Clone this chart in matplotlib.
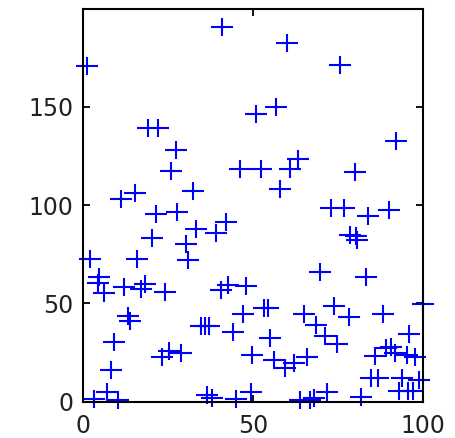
import matplotlib
matplotlib.use('Agg')
import matplotlib.pyplot as plt
from matplotlib.path import Path

# values
x = [1.2, 40.9, 19.0, 22.0, 27.2, 25.8, 32.2, 15.1, 11.2, 46.0,
     21.4, 27.7, 59.8, 75.5, 50.8, 56.7, 92.0, 52.2, 60.8, 63.0,
     80.0, 57.9, 72.8, 76.8, 83.7, 89.9, 33.1, 39.0, 42.1, 20.2,
     30.1, 30.9, 15.8, 2.1, 4.6, 4.3, 6.2, 12.0, 17.0, 18.2,
     24.0, 13.2, 13.6, 34.5, 35.7, 37.1, 8.9, 8.2, 25.3, 28.7,
     23.0, 7.0, 3.1, 10.1, 36.3, 37.8, 44.9, 40.4, 42.7, 47.8,
     44.1, 47.1, 53.2, 54.2, 64.8, 73.6, 78.0, 88.1, 100.0, 54.9,
     68.5, 71.2, 74.7, 95.7, 49.7, 56.1, 59.2, 61.9, 65.8, 49.3,
     63.7, 66.7, 67.9, 71.7, 69.7, 83.0, 78.5, 80.2, 80.6, 89.0,
     90.4, 85.7, 91.8, 95.1, 97.6, 84.7, 86.6, 93.7, 98.8, 92.9,
     95.6, 97.1, 81.8]
y = [170.7, 190.8, 139.1, 139.1, 127.9, 117.2, 107.3, 106.4, 103.0, 118.2,
     95.6, 96.6, 182.6, 171.6, 146.6, 150.0, 132.5, 118.2, 118.2, 123.5,
     117.0, 108.2, 98.8, 98.8, 94.5, 97.3, 88.0, 86.0, 91.2, 83.4,
     80.5, 72.2, 72.5, 72.5, 63.5, 60.6, 55.2, 58.3, 57.2, 60.0,
     56.0, 43.5, 41.2, 38.7, 38.7, 38.7, 30.2, 16.0, 26.0, 24.6,
     22.7, 4.8, 1.2, 0.8, 3.2, 1.7, 1.5, 56.7, 59.4, 59.0,
     35.7, 44.7, 47.6, 47.6, 44.4, 48.8, 43.3, 44.6, 49.8, 32.6,
     39.1, 33.2, 29.4, 34.6, 23.8, 21.4, 17.0, 19.9, 22.7, 4.7,
     0.9, 0.9, 1.7, 5.1, 66.2, 63.7, 84.7, 84.1, 82.4, 27.4,
     28.0, 23.1, 25.0, 23.8, 22.9, 11.9, 11.9, 11.9, 11.2, 5.4,
     5.4, 5.6, 2.5]
xticks = [0, 50, 100]
yticks = [0, 50, 100, 150]

# plus sign that is a bit wider than tall, like the source
plus = Path([(-1, 0), (1, 0), (0, -0.82), (0, 0.82)],
            [Path.MOVETO, Path.LINETO, Path.MOVETO, Path.LINETO])

fig = plt.figure(figsize=(4.56, 4.38), dpi=100)
ax = fig.add_axes([0.1827, 0.0829, 0.7456, 0.8959])

ax.plot(x, y, linestyle='none', marker=plus, markersize=15.5,
        markeredgewidth=1.5, color='#0000ff', clip_on=False)

ax.set_xlim(0, 100)
ax.set_ylim(0, 199.7)
ax.set_xticks(xticks)
ax.set_yticks(yticks)
ax.tick_params(direction='in', length=5, width=1.3, top=True, right=True,
               labelsize=17, colors='black', labelcolor='#222222')
ax.tick_params(axis='x', pad=9)
ax.tick_params(axis='y', pad=7)
for s in ax.spines.values():
    s.set_linewidth(1.5)

fig.savefig('out.png', dpi=100)
